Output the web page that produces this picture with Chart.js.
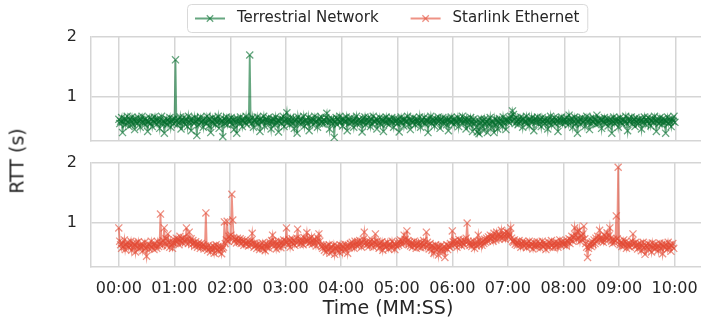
<!DOCTYPE html>
<html>
<head>
<meta charset="utf-8">
<script src="https://cdn.jsdelivr.net/npm/chart.js@4.4.1/dist/chart.umd.min.js"></script>
<style>
  html, body { margin: 0; padding: 0; background: #ffffff; overflow: hidden; }
  #wrap { position: relative; width: 701px; height: 320px; overflow: hidden; background: #ffffff; }
  #wrap canvas { position: absolute; left: 0; }
  #cTop { top: 0; }
  #cBottom { top: 139px; }
  .axis-title { position: absolute; font-family: 'DejaVu Sans', sans-serif; font-size: 19px; color: #262626; white-space: nowrap; line-height: 1; }
  #yTitle { left: 17px; top: 161px; transform: translate(-50%, -50%) rotate(-90deg); }
  #xTitle { left: 388px; top: 307px; transform: translate(-50%, -50%); }
</style>
</head>
<body>
<div id="wrap">
  <canvas id="cTop" width="710" height="165"></canvas>
  <canvas id="cBottom" width="710" height="181"></canvas>
  <div class="axis-title" id="yTitle">RTT (s)</div>
  <div class="axis-title" id="xTitle">Time (MM:SS)</div>
</div>
<script>
// Round-trip time samples, one per second over ten minutes (seconds of RTT).
const sampleStepSeconds = 1;

const terrestrialRtt = [
  // 00:00 - 00:59
  0.63, 0.56, 0.60, 0.66, 0.41, 0.59, 0.64, 0.54, 0.62, 0.68,
  0.58, 0.51, 0.63, 0.60, 0.67, 0.55, 0.62, 0.46, 0.64, 0.59,
  0.56, 0.66, 0.60, 0.50, 0.63, 0.68, 0.58, 0.62, 0.54, 0.64,
  0.60, 0.43, 0.59, 0.66, 0.56, 0.63, 0.51, 0.60, 0.67, 0.58,
  0.62, 0.55, 0.64, 0.59, 0.48, 0.63, 0.68, 0.56, 0.60, 0.40,
  0.58, 0.64, 0.54, 0.62, 0.59, 0.66, 0.50, 0.60, 0.63, 0.56,
  // 01:00 - 01:59
  0.64, 1.62, 0.60, 0.54, 0.63, 0.58, 0.67, 0.47, 0.62, 0.59,
  0.66, 0.55, 0.60, 0.63, 0.51, 0.68, 0.58, 0.62, 0.44, 0.64,
  0.59, 0.56, 0.66, 0.60, 0.36, 0.63, 0.54, 0.62, 0.67, 0.58,
  0.60, 0.50, 0.64, 0.59, 0.56, 0.68, 0.62, 0.52, 0.63, 0.41,
  0.60, 0.66, 0.56, 0.62, 0.54, 0.64, 0.59, 0.68, 0.48, 0.63,
  0.58, 0.60, 0.34, 0.64, 0.56, 0.62, 0.67, 0.54, 0.60, 0.63,
  // 02:00 - 02:59
  0.59, 0.66, 0.55, 0.62, 0.46, 0.63, 0.58, 0.40, 0.64, 0.60,
  0.56, 0.67, 0.62, 0.51, 0.60, 0.64, 0.58, 0.68, 0.54, 0.63,
  0.60, 1.70, 0.62, 0.56, 0.66, 0.50, 0.60, 0.63, 0.58, 0.67,
  0.55, 0.62, 0.43, 0.64, 0.59, 0.60, 0.68, 0.52, 0.63, 0.58,
  0.62, 0.66, 0.56, 0.60, 0.47, 0.64, 0.59, 0.63, 0.54, 0.67,
  0.58, 0.62, 0.42, 0.60, 0.64, 0.56, 0.63, 0.68, 0.51, 0.60,
  // 03:00 - 03:59
  0.63, 0.74, 0.58, 0.62, 0.54, 0.66, 0.60, 0.56, 0.64, 0.48,
  0.60, 0.63, 0.40, 0.67, 0.58, 0.62, 0.55, 0.64, 0.59, 0.68,
  0.52, 0.62, 0.60, 0.56, 0.66, 0.44, 0.63, 0.59, 0.64, 0.54,
  0.62, 0.68, 0.58, 0.60, 0.50, 0.64, 0.56, 0.63, 0.67, 0.59,
  0.55, 0.62, 0.60, 0.66, 0.73, 0.58, 0.63, 0.47, 0.60, 0.64,
  0.56, 0.62, 0.33, 0.59, 0.66, 0.54, 0.63, 0.60, 0.68, 0.58,
  // 04:00 - 04:59
  0.62, 0.52, 0.64, 0.59, 0.60, 0.67, 0.44, 0.63, 0.56, 0.62,
  0.66, 0.58, 0.60, 0.50, 0.64, 0.59, 0.68, 0.55, 0.62, 0.63,
  0.56, 0.60, 0.42, 0.64, 0.59, 0.67, 0.54, 0.62, 0.58, 0.66,
  0.60, 0.51, 0.63, 0.56, 0.68, 0.60, 0.59, 0.64, 0.47, 0.62,
  0.58, 0.66, 0.55, 0.63, 0.60, 0.43, 0.64, 0.59, 0.67, 0.56,
  0.62, 0.54, 0.63, 0.60, 0.66, 0.58, 0.50, 0.64, 0.59, 0.62,
  // 05:00 - 05:59
  0.56, 0.63, 0.42, 0.60, 0.67, 0.58, 0.62, 0.52, 0.64, 0.59,
  0.60, 0.68, 0.55, 0.63, 0.46, 0.62, 0.58, 0.66, 0.60, 0.54,
  0.64, 0.59, 0.62, 0.56, 0.67, 0.50, 0.60, 0.63, 0.58, 0.66,
  0.55, 0.62, 0.60, 0.41, 0.64, 0.59, 0.68, 0.56, 0.63, 0.60,
  0.52, 0.64, 0.58, 0.62, 0.67, 0.60, 0.48, 0.63, 0.59, 0.66,
  0.56, 0.60, 0.64, 0.54, 0.62, 0.44, 0.63, 0.59, 0.67, 0.58,
  // 06:00 - 06:59
  0.62, 0.55, 0.64, 0.60, 0.58, 0.66, 0.51, 0.63, 0.59, 0.62,
  0.68, 0.56, 0.60, 0.63, 0.47, 0.64, 0.58, 0.62, 0.54, 0.66,
  0.59, 0.43, 0.63, 0.56, 0.60, 0.50, 0.42, 0.62, 0.39, 0.58,
  0.64, 0.52, 0.60, 0.44, 0.63, 0.55, 0.59, 0.41, 0.62, 0.56,
  0.66, 0.50, 0.60, 0.58, 0.41, 0.63, 0.54, 0.62, 0.47, 0.59,
  0.64, 0.56, 0.60, 0.51, 0.67, 0.58, 0.62, 0.46, 0.63, 0.60,
  // 07:00 - 07:59
  0.58, 0.64, 0.68, 0.60, 0.77, 0.71, 0.63, 0.56, 0.66, 0.60,
  0.54, 0.63, 0.59, 0.67, 0.62, 0.50, 0.64, 0.58, 0.60, 0.68,
  0.56, 0.62, 0.52, 0.63, 0.59, 0.66, 0.60, 0.44, 0.64, 0.58,
  0.62, 0.67, 0.55, 0.60, 0.63, 0.51, 0.66, 0.59, 0.62, 0.56,
  0.64, 0.60, 0.47, 0.63, 0.58, 0.68, 0.54, 0.62, 0.59, 0.66,
  0.56, 0.63, 0.60, 0.43, 0.64, 0.58, 0.62, 0.67, 0.55, 0.60,
  // 08:00 - 08:59
  0.63, 0.58, 0.66, 0.60, 0.54, 0.70, 0.62, 0.59, 0.64, 0.50,
  0.60, 0.67, 0.56, 0.63, 0.40, 0.59, 0.64, 0.55, 0.62, 0.66,
  0.58, 0.60, 0.51, 0.63, 0.68, 0.59, 0.62, 0.46, 0.64, 0.56,
  0.60, 0.66, 0.58, 0.63, 0.54, 0.70, 0.60, 0.56, 0.64, 0.62,
  0.48, 0.63, 0.59, 0.66, 0.56, 0.60, 0.64, 0.52, 0.62, 0.58,
  0.63, 0.40, 0.60, 0.67, 0.56, 0.62, 0.59, 0.64, 0.50, 0.60,
  // 09:00 - 09:59
  0.66, 0.58, 0.62, 0.54, 0.63, 0.60, 0.68, 0.56, 0.44, 0.64,
  0.59, 0.62, 0.67, 0.55, 0.60, 0.63, 0.51, 0.66, 0.58, 0.62,
  0.56, 0.64, 0.60, 0.47, 0.63, 0.59, 0.67, 0.55, 0.62, 0.60,
  0.66, 0.56, 0.63, 0.52, 0.60, 0.64, 0.58, 0.68, 0.62, 0.43,
  0.59, 0.63, 0.56, 0.66, 0.60, 0.54, 0.64, 0.58, 0.62, 0.40,
  0.60, 0.67, 0.56, 0.63, 0.59, 0.51, 0.64, 0.60, 0.68, 0.58
];

const starlinkRtt = [
  // 00:00 - 00:59
  0.92, 0.70, 0.64, 0.58, 0.67, 0.61, 0.72, 0.56, 0.65, 0.62,
  0.68, 0.59, 0.63, 0.70, 0.55, 0.66, 0.60, 0.64, 0.52, 0.67,
  0.61, 0.69, 0.57, 0.63, 0.60, 0.66, 0.54, 0.62, 0.68, 0.58,
  0.45, 0.61, 0.65, 0.57, 0.63, 0.70, 0.59, 0.64, 0.56, 0.66,
  0.62, 0.58, 0.69, 0.61, 0.65, 1.15, 0.68, 0.63, 0.71, 0.92,
  0.66, 0.74, 0.62, 0.82, 0.68, 0.60, 0.70, 0.64, 0.58, 0.67,
  // 01:00 - 01:59
  0.72, 0.66, 0.75, 0.69, 0.73, 0.64, 0.78, 0.70, 0.74, 0.67,
  0.76, 0.71, 0.68, 0.92, 0.73, 0.66, 0.85, 0.70, 0.74, 0.65,
  0.71, 0.67, 0.62, 0.69, 0.64, 0.60, 0.67, 0.63, 0.58, 0.66,
  0.61, 0.64, 0.57, 0.62, 1.17, 0.59, 0.55, 0.63, 0.58, 0.52,
  0.60, 0.56, 0.62, 0.50, 0.59, 0.64, 0.55, 0.61, 0.53, 0.58,
  0.62, 0.49, 0.57, 0.60, 1.02, 0.66, 0.72, 1.03, 0.70, 0.78,
  // 02:00 - 02:59
  0.74, 0.80, 1.48, 1.05, 0.76, 0.70, 0.73, 0.67, 0.75, 0.71,
  0.68, 0.74, 0.66, 0.72, 0.69, 0.63, 0.71, 0.67, 0.65, 0.70,
  0.62, 0.68, 0.64, 0.71, 0.83, 0.66, 0.60, 0.67, 0.63, 0.58,
  0.65, 0.61, 0.56, 0.64, 0.60, 0.67, 0.57, 0.62, 0.54, 0.66,
  0.60, 0.63, 0.58, 0.68, 0.64, 0.71, 0.80, 0.66, 0.62, 0.69,
  0.57, 0.65, 0.61, 0.70, 0.64, 0.59, 0.68, 0.63, 0.72, 0.66,
  // 03:00 - 03:59
  0.70, 0.92, 0.68, 0.64, 0.72, 0.60, 0.69, 0.74, 0.66, 0.71,
  0.63, 0.68, 0.75, 0.90, 0.70, 0.65, 0.73, 0.67, 0.71, 0.64,
  0.76, 0.69, 0.72, 0.84, 0.70, 0.66, 0.74, 0.68, 0.77, 0.65,
  0.71, 0.67, 0.73, 0.62, 0.69, 0.75, 0.82, 0.70, 0.64, 0.61,
  0.58, 0.63, 0.55, 0.60, 0.52, 0.62, 0.57, 0.64, 0.50, 0.59,
  0.61, 0.54, 0.63, 0.48, 0.58, 0.62, 0.55, 0.60, 0.51, 0.64,
  // 04:00 - 04:59
  0.57, 0.62, 0.53, 0.60, 0.65, 0.56, 0.61, 0.50, 0.63, 0.59,
  0.66, 0.61, 0.68, 0.63, 0.58, 0.70, 0.65, 0.62, 0.69, 0.64,
  0.71, 0.66, 0.60, 0.68, 0.73, 0.85, 0.67, 0.63, 0.70, 0.65,
  0.61, 0.69, 0.64, 0.72, 0.66, 0.60, 0.68, 0.82, 0.65, 0.70,
  0.63, 0.58, 0.67, 0.62, 0.69, 0.55, 0.64, 0.60, 0.66, 0.61,
  0.68, 0.57, 0.63, 0.65, 0.59, 0.70, 0.62, 0.66, 0.56, 0.64,
  // 05:00 - 05:59
  0.61, 0.67, 0.63, 0.69, 0.72, 0.65, 0.70, 0.66, 0.80, 0.73,
  0.68, 0.87, 0.71, 0.64, 0.69, 0.62, 0.67, 0.60, 0.65, 0.70,
  0.63, 0.58, 0.66, 0.61, 0.68, 0.64, 0.59, 0.67, 0.62, 0.71,
  0.65, 0.60, 0.85, 0.68, 0.63, 0.57, 0.66, 0.61, 0.55, 0.62,
  0.50, 0.59, 0.64, 0.56, 0.61, 0.47, 0.60, 0.54, 0.63, 0.58,
  0.52, 0.61, 0.43, 0.59, 0.64, 0.56, 0.62, 0.60, 0.66, 0.63,
  // 06:00 - 06:59
  0.87, 0.69, 0.64, 0.71, 0.66, 0.60, 0.68, 0.73, 0.65, 0.70,
  0.62, 0.67, 0.72, 0.64, 0.69, 0.75, 1.00, 0.70, 0.66, 0.63,
  0.68, 0.61, 0.65, 0.70, 0.58, 0.66, 0.62, 0.69, 0.80, 0.64,
  0.71, 0.67, 0.63, 0.70, 0.66, 0.73, 0.68, 0.75, 0.70, 0.77,
  0.72, 0.80, 0.74, 0.78, 0.70, 0.83, 0.76, 0.72, 0.85, 0.79,
  0.74, 0.81, 0.77, 0.88, 0.75, 0.82, 0.78, 0.73, 0.86, 0.80,
  // 07:00 - 07:59
  0.84, 0.77, 0.81, 0.92, 0.75, 0.70, 0.68, 0.72, 0.65, 0.69,
  0.63, 0.67, 0.71, 0.64, 0.60, 0.66, 0.70, 0.62, 0.68, 0.65,
  0.59, 0.67, 0.63, 0.70, 0.61, 0.66, 0.64, 0.57, 0.68, 0.62,
  0.65, 0.60, 0.69, 0.63, 0.66, 0.58, 0.64, 0.70, 0.61, 0.67,
  0.63, 0.56, 0.65, 0.62, 0.68, 0.60, 0.66, 0.71, 0.63, 0.59,
  0.67, 0.62, 0.69, 0.64, 0.60, 0.66, 0.72, 0.63, 0.68, 0.65,
  // 08:00 - 08:59
  0.70, 0.64, 0.67, 0.62, 0.71, 0.68, 0.74, 0.66, 0.72, 0.78,
  0.70, 0.76, 0.92, 0.80, 0.73, 0.86, 0.75, 0.88, 0.70, 0.78,
  0.72, 0.82, 0.95, 0.74, 0.66, 0.60, 0.43, 0.58, 0.63, 0.67,
  0.61, 0.69, 0.64, 0.72, 0.66, 0.75, 0.70, 0.78, 0.73, 0.88,
  0.76, 0.70, 0.74, 0.68, 0.80, 0.72, 0.77, 0.84, 0.71, 0.79,
  0.92, 0.75, 0.70, 0.66, 0.73, 0.68, 0.71, 1.12, 0.74, 1.93,
  // 09:00 - 09:59
  0.70, 0.64, 0.68, 0.61, 0.66, 0.72, 0.63, 0.69, 0.58, 0.65,
  0.62, 0.67, 0.60, 0.64, 0.70, 0.82, 0.66, 0.61, 0.68, 0.63,
  0.57, 0.65, 0.60, 0.66, 0.54, 0.62, 0.68, 0.59, 0.48, 0.63,
  0.60, 0.66, 0.56, 0.64, 0.61, 0.52, 0.67, 0.59, 0.63, 0.57,
  0.65, 0.60, 0.54, 0.62, 0.67, 0.58, 0.64, 0.49, 0.61, 0.66,
  0.59, 0.63, 0.56, 0.68, 0.60, 0.64, 0.53, 0.62, 0.66, 0.58
];

// Axis ticks
const tickSeconds = [0, 60, 120, 180, 240, 300, 360, 420, 480, 540, 600];
const tickLabels = ['00:00', '01:00', '02:00', '03:00', '04:00', '05:00', '06:00', '07:00', '08:00', '09:00', '10:00'];
const yTickValues = [1, 2];
const seriesNames = ['Terrestrial Network', 'Starlink Ethernet'];

const FONT = "'DejaVu Sans', sans-serif";
const TEXT = '#262626';
const GRID = '#d5d5d5';
const GREEN = 'rgba(0, 109, 44, 0.6)';
const RED = 'rgba(227, 74, 51, 0.6)';

const toPoints = values => values.map((v, i) => ({ x: i * sampleStepSeconds, y: v }));

// Legend box with a line + "x" marker handle for each series
const seriesKey = {
  id: 'seriesKey',
  afterDraw(chart, args, opts) {
    const ctx = chart.ctx;
    ctx.save();
    ctx.font = opts.fontSize + 'px ' + FONT;
    const handle = 30, gap = 12, pad = 8, colGap = 32;
    const widths = opts.items.map(it => ctx.measureText(it.text).width);
    let total = pad * 2;
    widths.forEach((w, i) => { total += handle + gap + w + (i > 0 ? colGap : 0); });
    const left = Math.round(opts.centerX - total / 2);
    const top = opts.top, height = opts.height;
    ctx.beginPath();
    ctx.roundRect(left + 0.5, top + 0.5, total, height, 4);
    ctx.fillStyle = 'rgba(255,255,255,0.8)';
    ctx.fill();
    ctx.strokeStyle = '#d9d9d9';
    ctx.lineWidth = 1;
    ctx.stroke();
    const cy = top + height / 2 + 0.5;
    let x = left + pad;
    opts.items.forEach((it, i) => {
      ctx.strokeStyle = it.color;
      ctx.lineWidth = 2;
      ctx.beginPath();
      ctx.moveTo(x, cy);
      ctx.lineTo(x + handle, cy);
      ctx.stroke();
      const mx = x + handle / 2, m = 3.2;
      ctx.lineWidth = 1.3;
      ctx.beginPath();
      ctx.moveTo(mx - m, cy - m); ctx.lineTo(mx + m, cy + m);
      ctx.moveTo(mx - m, cy + m); ctx.lineTo(mx + m, cy - m);
      ctx.stroke();
      ctx.fillStyle = TEXT;
      ctx.textBaseline = 'middle';
      ctx.textAlign = 'left';
      ctx.fillText(it.text, x + handle + gap, cy);
      x += handle + gap + widths[i] + colGap;
    });
    ctx.restore();
  }
};

function panel(canvasId, label, values, color, cfg) {
  return new Chart(document.getElementById(canvasId), {
    type: 'line',
    data: {
      datasets: [{
        label: label,
        data: toPoints(values),
        borderColor: color,
        backgroundColor: color,
        borderWidth: 1.8,
        tension: 0,
        fill: false,
        pointStyle: 'crossRot',
        pointRadius: 5,
        pointBorderWidth: 1.3,
        pointBorderColor: color,
        pointBackgroundColor: color
      }]
    },
    options: {
      responsive: false,
      animation: false,
      devicePixelRatio: 1,
      events: [],
      layout: { padding: { top: cfg.padTop, right: 5, left: 0, bottom: 0 } },
      plugins: {
        legend: { display: false },
        tooltip: { enabled: false },
        seriesKey: cfg.key || false
      },
      scales: {
        x: {
          type: 'linear',
          min: -30,
          max: 630,
          afterBuildTicks: s => { s.ticks = tickSeconds.map(v => ({ value: v })); },
          afterFit: s => { s.height = cfg.xHeight; },
          grid: { color: GRID, lineWidth: 1.5, drawTicks: false },
          border: { color: GRID, width: 1.5 },
          ticks: {
            display: cfg.showXTicks,
            autoSkip: false,
            maxRotation: 0,
            padding: 12,
            color: TEXT,
            font: { family: FONT, size: 16 },
            callback: v => { const i = tickSeconds.indexOf(v); return i >= 0 ? tickLabels[i] : ''; }
          }
        },
        y: {
          min: 0.27,
          max: 2.0,
          afterBuildTicks: s => { s.ticks = yTickValues.map(v => ({ value: v })); },
          afterFit: s => { s.width = 91; },
          grid: { color: GRID, lineWidth: 1.5, drawTicks: false },
          border: { color: GRID, width: 1.5 },
          ticks: { padding: 14, color: TEXT, font: { family: FONT, size: 16 } }
        }
      }
    },
    plugins: cfg.key ? [seriesKey] : []
  });
}

// Top panel: chart area spans y 37..141 of the page
panel('cTop', seriesNames[0], terrestrialRtt, GREEN, {
  padTop: 37, xHeight: 24, showXTicks: false,
  key: {
    centerX: 387, top: 4, height: 28, fontSize: 15,
    items: [
      { text: seriesNames[0], color: GREEN },
      { text: seriesNames[1], color: RED }
    ]
  }
});

// Bottom panel: chart area spans y 163..267 of the page
panel('cBottom', seriesNames[1], starlinkRtt, RED, {
  padTop: 24, xHeight: 53, showXTicks: true
});
</script>
</body>
</html>
